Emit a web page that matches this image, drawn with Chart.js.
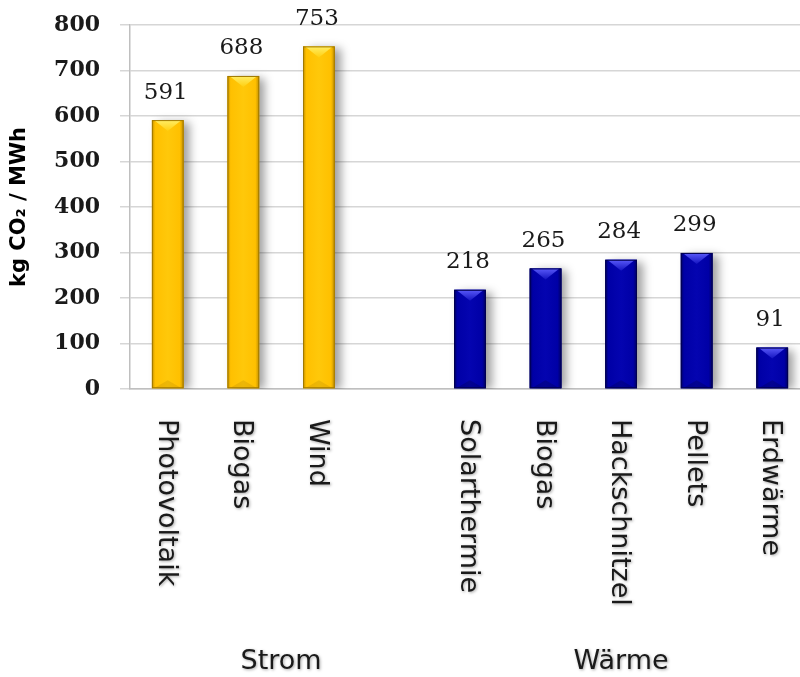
<!DOCTYPE html>
<html>
<head>
<meta charset="utf-8">
<script src="https://cdn.jsdelivr.net/npm/chart.js@4/dist/chart.umd.min.js"></script>
<style>
  html, body { margin: 0; padding: 0; background: #ffffff; overflow: hidden; }
  #wrap { width: 800px; height: 677px; overflow: hidden; }
  canvas { display: block; }
</style>
</head>
<body>
<div id="wrap"><canvas id="chart" width="810" height="677"></canvas></div>
<script>
// Emissions per source, kg CO2 per MWh (empty slot separates the two groups)
const categories = ['Photovoltaik', 'Biogas', 'Wind', '', 'Solarthermie', 'Biogas', 'Hackschnitzel', 'Pellets', 'Erdwärme'];
const emissions  = [591, 688, 753, null, 218, 265, 284, 299, 91];
const groupOf    = ['strom', 'strom', 'strom', 'strom', 'waerme', 'waerme', 'waerme', 'waerme', 'waerme'];
const groups     = [
  { key: 'strom',  label: 'Strom' },
  { key: 'waerme', label: 'Wärme' }
];
const yTicks     = [0, 100, 200, 300, 400, 500, 600, 700, 800];
const yTitle     = 'kg CO\u2082 / MWh';

const palette = {
  strom:  { base: '#FFC000', dark: '#C29000', mid: '#FFC80A', hiTop: '#FFEE66', hiBot: '#FFCF10', low: 'rgba(150,105,0,0.18)', edge: '#A07800' },
  waerme: { base: '#0000A6', dark: '#000062', mid: '#0404B0', hiTop: '#5A5AFA', hiBot: '#1414C0', low: 'rgba(0,0,40,0.22)',   edge: '#000050' }
};

const SANS = '"DejaVu Sans", sans-serif';
const SERIF = '"DejaVu Serif", serif';

// Soft drop shadow under the bars
const barShadow = {
  id: 'barShadow',
  beforeDatasetsDraw(chart) {
    const ctx = chart.ctx;
    ctx.save();
    ctx.shadowColor = 'rgba(0,0,0,0.38)';
    ctx.shadowBlur = 9;
    ctx.shadowOffsetX = 6;
    ctx.shadowOffsetY = 2;
  },
  afterDatasetsDraw(chart) {
    chart.ctx.restore();
  }
};

// Rounded-bevel shading painted over each bar
const barBevel = {
  id: 'barBevel',
  afterDatasetsDraw(chart) {
    const ctx = chart.ctx;
    const meta = chart.getDatasetMeta(0);
    meta.data.forEach((bar, i) => {
      if (emissions[i] == null) return;
      const p = palette[groupOf[i]];
      const { x, y, base, width } = bar.getProps(['x', 'y', 'base', 'width'], true);
      const l = x - width / 2, r = x + width / 2;
      ctx.save();
      // cylindrical horizontal shading
      const g = ctx.createLinearGradient(l, 0, r, 0);
      g.addColorStop(0, p.dark);
      g.addColorStop(0.1, p.base);
      g.addColorStop(0.5, p.mid);
      g.addColorStop(0.88, p.base);
      g.addColorStop(1, p.dark);
      ctx.fillStyle = g;
      ctx.fillRect(l, y, width, base - y);
      // top bevel
      const bh = Math.min(11, (base - y) / 3);
      const tg = ctx.createLinearGradient(0, y, 0, y + bh);
      tg.addColorStop(0, p.hiTop);
      tg.addColorStop(1, p.hiBot);
      ctx.fillStyle = tg;
      ctx.beginPath();
      ctx.moveTo(l + 2, y);
      ctx.lineTo(r - 2, y);
      ctx.lineTo(x, y + bh);
      ctx.closePath();
      ctx.fill();
      // bottom bevel
      ctx.fillStyle = p.low;
      ctx.beginPath();
      ctx.moveTo(l + 2, base);
      ctx.lineTo(r - 2, base);
      ctx.lineTo(x, base - Math.min(8, (base - y) / 4));
      ctx.closePath();
      ctx.fill();
      // thin outline
      ctx.strokeStyle = p.edge;
      ctx.lineWidth = 1;
      ctx.strokeRect(l + 0.5, y + 0.5, width - 1, base - y - 1);
      ctx.restore();
    });
  }
};

// Value labels, category labels (read downward) and group captions
const labelsPlugin = {
  id: 'labelsPlugin',
  afterDraw(chart) {
    const ctx = chart.ctx;
    const xs = chart.scales.x;
    const meta = chart.getDatasetMeta(0);
    ctx.save();
    // values above bars
    ctx.fillStyle = '#1a1a1a';
    ctx.font = '23px ' + SERIF;
    ctx.textAlign = 'center';
    ctx.textBaseline = 'bottom';
    meta.data.forEach((bar, i) => {
      if (emissions[i] == null) return;
      ctx.fillText(String(emissions[i]), bar.x - 2, bar.y - 16);
    });
    // category names, rotated clockwise
    ctx.shadowColor = 'rgba(0,0,0,0.35)';
    ctx.shadowBlur = 3;
    ctx.shadowOffsetX = 1;
    ctx.shadowOffsetY = 1;
    ctx.font = '27px ' + SANS;
    ctx.textAlign = 'left';
    ctx.textBaseline = 'middle';
    categories.forEach((name, i) => {
      if (!name) return;
      const px = xs.getPixelForValue(i);
      ctx.save();
      ctx.translate(px - 2, xs.top + 30);
      ctx.rotate(Math.PI / 2);
      ctx.fillText(name, 0, 0);
      ctx.restore();
    });
    // group captions centred under their span
    ctx.textAlign = 'center';
    groups.forEach(gr => {
      const idx = groupOf.map((k, i) => k === gr.key ? i : -1).filter(i => i >= 0);
      const a = xs.getPixelForValue(idx[0]);
      const b = xs.getPixelForValue(idx[idx.length - 1]);
      ctx.fillText(gr.label, (a + b) / 2, 662);
    });
    ctx.restore();
  }
};

new Chart(document.getElementById('chart'), {
  type: 'bar',
  data: {
    labels: categories,
    datasets: [{
      data: emissions,
      backgroundColor: emissions.map((v, i) => palette[groupOf[i]].base),
      borderWidth: 0,
      categoryPercentage: 1,
      barPercentage: 0.42
    }]
  },
  options: {
    responsive: false,
    animation: false,
    devicePixelRatio: 1,
    layout: { padding: { top: 25, right: 0, left: 0, bottom: 0 } },
    plugins: {
      legend: { display: false },
      tooltip: { enabled: false }
    },
    scales: {
      x: {
        grid: { display: false },
        border: { display: true, color: '#BFBFBF', width: 1.5 },
        ticks: { display: false },
        afterFit(scale) { scale.height = 288; }
      },
      y: {
        min: 0,
        max: 800,
        afterBuildTicks(scale) { scale.ticks = yTicks.map(v => ({ value: v })); },
        grid: { color: '#D6D6D6', lineWidth: 1.5, tickLength: 10 },
        border: { display: true, color: '#BFBFBF', width: 1.5 },
        ticks: {
          padding: 20,
          color: '#1a1a1a',
          font: { family: SERIF, size: 22, weight: 'bold' }
        },
        title: {
          display: true,
          text: yTitle,
          color: '#000000',
          padding: { top: 7, bottom: 0 },
          font: { family: SANS, size: 21, weight: 'bold' }
        },
        afterFit(scale) {
          scale.width = 130;
          scale.paddingTop = 0;
          scale.paddingBottom = 0;
        }
      }
    }
  },
  plugins: [barShadow, barBevel, labelsPlugin]
});
</script>
</body>
</html>
